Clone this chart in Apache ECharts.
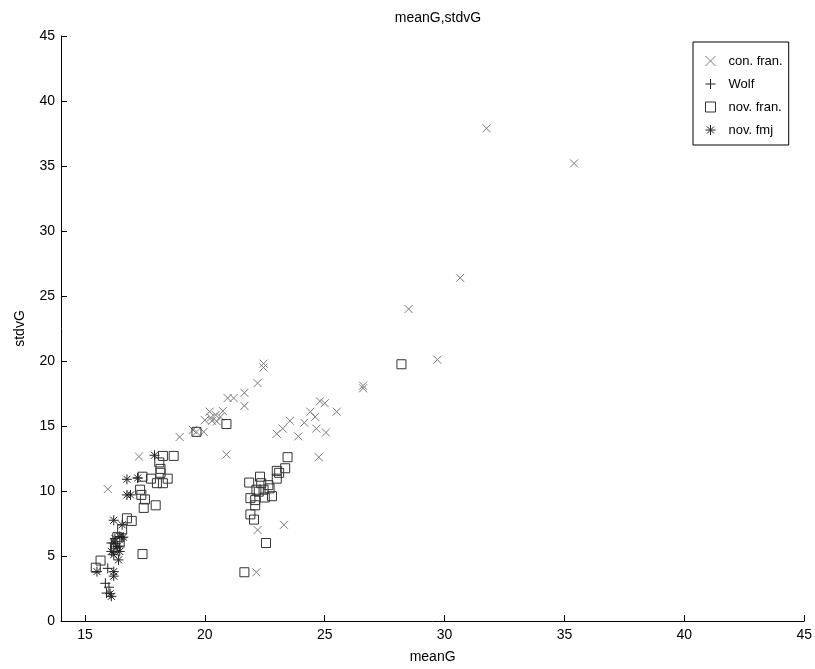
<!DOCTYPE html>
<html>
<head>
<meta charset="utf-8">
<script src="https://cdn.jsdelivr.net/npm/echarts@6/dist/echarts.min.js"></script>
<style>
  html, body { margin: 0; padding: 0; background: #fff; }
  #chart { width: 815px; height: 669px; }
</style>
</head>
<body>
<div id="chart"></div>
<script>
// [meanG, stdvG] pairs
const conFran = [
  [31.75, 37.9], [35.4, 35.2], [30.65, 26.4], [28.5, 24.0], [29.7, 20.1],
  [22.45, 19.8], [22.45, 19.5], [22.2, 18.3], [21.65, 17.55], [20.95, 17.15],
  [21.2, 17.15], [21.65, 16.55], [20.75, 16.15], [20.2, 16.1], [20.45, 15.85],
  [20.65, 15.7], [20.0, 15.45], [20.3, 15.4], [20.5, 15.35], [20.25, 15.65],
  [19.5, 14.7], [19.65, 14.55], [19.95, 14.55], [18.95, 14.15], [20.9, 12.8],
  [17.25, 12.65], [15.95, 10.15],
  [26.6, 18.1], [26.6, 17.9], [24.8, 16.9], [25.0, 16.75], [24.4, 16.1],
  [25.5, 16.1], [24.6, 15.7], [23.55, 15.4], [24.15, 15.25], [23.25, 14.8],
  [23.0, 14.4], [24.65, 14.8], [25.05, 14.5], [23.9, 14.2], [24.75, 12.6],
  [23.3, 7.4], [22.2, 7.0], [22.15, 3.75]
];
const wolf = [
  [17.2, 11.0], [16.55, 6.4], [16.1, 6.0], [16.45, 5.7], [15.95, 4.05],
  [15.85, 2.9], [16.0, 2.6], [15.9, 2.15]
];
const novFran = [
  [28.2, 19.75], [20.9, 15.15], [19.65, 14.55], [18.7, 12.7], [18.25, 12.7],
  [18.1, 12.2], [18.15, 11.4], [18.15, 11.7], [18.45, 10.95], [17.75, 10.95],
  [17.4, 11.1], [18.0, 10.6], [18.25, 10.6], [17.3, 10.1], [17.35, 9.7],
  [17.5, 9.35], [17.45, 8.7], [17.95, 8.9], [16.75, 7.9], [16.95, 7.7],
  [16.55, 7.05], [16.35, 6.45], [16.45, 6.1], [16.25, 5.6], [17.4, 5.15],
  [15.65, 4.65], [15.45, 4.1],
  [23.45, 12.6], [23.35, 11.75], [23.0, 11.55], [23.1, 11.4], [23.0, 10.95],
  [22.3, 11.1], [21.85, 10.65], [22.35, 10.6], [22.65, 10.45], [22.7, 10.2],
  [22.45, 10.1], [22.15, 10.1], [22.25, 9.95], [22.8, 9.6], [22.5, 9.5],
  [21.9, 9.45], [22.1, 9.3], [22.1, 8.9], [21.9, 8.2], [22.05, 7.8],
  [22.55, 6.0], [21.65, 3.75]
];
const novFmj = [
  [17.9, 12.75], [16.75, 10.9], [17.2, 11.0], [16.75, 9.7], [16.9, 9.7],
  [16.2, 7.75], [16.55, 7.4], [16.25, 6.35], [16.45, 6.5], [16.6, 6.45],
  [16.2, 6.0], [16.35, 5.75], [16.3, 5.6], [16.1, 5.35], [16.45, 5.35],
  [16.2, 5.1], [16.4, 4.7], [15.5, 3.8], [16.2, 3.8], [16.2, 3.45],
  [16.05, 2.1], [16.1, 1.9]
];
const xTicks = [15, 20, 25, 30, 35, 40, 45];

const FONT = 'Liberation Sans, Arial, sans-serif';
const crossPath = 'path://M0,0L10,10M10,0L0,10';
const plusPath = 'path://M5,0L5,10M0,5L10,5';
const starPath = 'path://M5,0L5,10M0,5L10,5M1.5,1.5L8.5,8.5M8.5,1.5L1.5,8.5';

const chart = echarts.init(document.getElementById('chart'));

const mk = (name, data, symbol, size, color) => ({
  name,
  type: 'scatter',
  data,
  symbol,
  symbolSize: size,
  itemStyle: { color: 'transparent', borderColor: color, borderWidth: 1, opacity: 1 },
  emphasis: { disabled: true }
});

chart.setOption({
  animation: false,
  title: {
    text: 'meanG,stdvG',
    left: 433,
    textAlign: 'center',
    top: 6,
    textStyle: { fontFamily: FONT, fontSize: 14, fontWeight: 'normal', color: '#000' }
  },
  grid: { left: 61, right: 10, top: 36, bottom: 48 },
  legend: {
    left: 693,
    top: 42,
    orient: 'vertical',
    backgroundColor: '#fff',
    borderColor: '#000',
    borderWidth: 1,
    padding: [12, 6, 8, 12],
    itemGap: 9,
    itemWidth: 10,
    itemHeight: 10,
    itemStyle: { borderWidth: 1 },
    textStyle: { fontFamily: FONT, fontSize: 13, color: '#000', lineHeight: 14, padding: [0, 0, 0, 8] },
    data: ['con. fran.', 'Wolf', 'nov. fran.', 'nov. fmj']
  },
  xAxis: {
    type: 'value',
    min: 14,
    max: 45,
    name: 'meanG',
    nameLocation: 'middle',
    nameGap: 29,
    nameTextStyle: { fontFamily: FONT, fontSize: 14, color: '#000' },
    axisLine: { onZero: false, lineStyle: { color: '#000', width: 1 } },
    axisTick: { inside: true, length: 6, customValues: xTicks, lineStyle: { color: '#000' } },
    axisLabel: { customValues: xTicks, fontFamily: FONT, fontSize: 14, color: '#000', margin: 7 },
    splitLine: { show: false }
  },
  yAxis: {
    type: 'value',
    min: 0,
    max: 45,
    interval: 5,
    name: 'stdvG',
    nameLocation: 'middle',
    nameGap: 34,
    nameTextStyle: { fontFamily: FONT, fontSize: 14, color: '#000' },
    axisLine: { show: true, onZero: false, lineStyle: { color: '#000', width: 1 } },
    axisTick: { show: true, inside: true, length: 6, lineStyle: { color: '#000' } },
    axisLabel: { fontFamily: FONT, fontSize: 14, color: '#000', margin: 6 },
    splitLine: { show: false }
  },
  series: [
    mk('con. fran.', conFran, crossPath, 8, '#7a7a7a'),
    mk('Wolf', wolf, plusPath, 10, '#222'),
    mk('nov. fran.', novFran, 'rect', 9, '#333'),
    mk('nov. fmj', novFmj, starPath, 10, '#222')
  ]
});
</script>
</body>
</html>
